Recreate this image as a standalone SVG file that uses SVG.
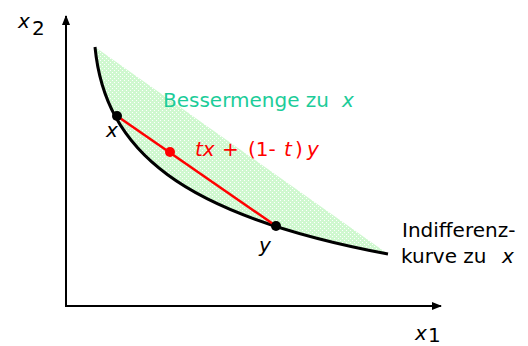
<svg xmlns="http://www.w3.org/2000/svg" width="528" height="346" viewBox="0 0 528 346">
<style>
.lbl{font-family:"DejaVu Sans","Liberation Sans",sans-serif;font-size:20px}
.it{font-style:italic}
.ax{stroke:#000;stroke-width:2;fill:none}
</style>
<defs>
<pattern id="dots" width="4" height="4" patternUnits="userSpaceOnUse">
<rect width="4" height="4" fill="#cff8cf"/>
<rect x="0" y="0" width="1" height="1" fill="#ffffff"/>
<rect x="2" y="2" width="1" height="1" fill="#ffffff"/>
</pattern>
<marker id="arr" markerWidth="10" markerHeight="10" refX="9" refY="5" orient="auto" markerUnits="userSpaceOnUse">
<path d="M0,1 L10,5 L0,9 Z" fill="#000"/>
</marker>
</defs>
<rect width="528" height="346" fill="#fff"/>
<g id="region">
<path d="M95,47 C105,150 180,215 388,254 Z" fill="url(#dots)"/>
</g>
<g id="axes">
<path class="ax" d="M66,306 L66,16" marker-end="url(#arr)"/>
<path class="ax" d="M65,306 L441,306" marker-end="url(#arr)"/>
<text class="lbl it" x="18" y="28" font-size="22">x</text><text class="lbl" x="32" y="35" font-size="15">2</text>
<text class="lbl it" x="415" y="340" font-size="22">x</text><text class="lbl" x="428" y="342" font-size="13">1</text>
</g>
<g id="connectors">
<path d="M95,47 C105,150 180,215 388,254" fill="none" stroke="#000" stroke-width="3"/>
<line x1="117" y1="116" x2="276" y2="226" stroke="#ff0000" stroke-width="2.5"/>
</g>
<g id="point-x">
<circle cx="117" cy="116" r="5" fill="#000"/>
<text class="lbl it" x="106" y="137" font-size="22">x</text>
</g>
<g id="point-y">
<circle cx="276" cy="226" r="5" fill="#000"/>
<text class="lbl it" x="259" y="252" font-size="22">y</text>
</g>
<g id="point-mix">
<circle cx="170" cy="152" r="5" fill="#ff0000"/>
<text class="lbl" x="195" y="156" fill="#ff0000" font-size="24"><tspan class="it">tx</tspan><tspan x="222">+</tspan><tspan x="248">(1-</tspan><tspan class="it" x="284">t</tspan><tspan x="295">)</tspan><tspan class="it" x="307">y</tspan></text>
</g>
<g id="label-besser">
<text class="lbl" x="163" y="107" fill="#1ccc99">Bessermenge zu<tspan class="it" x="342">x</tspan></text>
</g>
<g id="label-indiff">
<text class="lbl" x="402" y="237" fill="#000">Indifferenz-</text>
<text class="lbl" x="401" y="263" fill="#000">kurve zu<tspan class="it" x="502">x</tspan></text>
</g>
</svg>
